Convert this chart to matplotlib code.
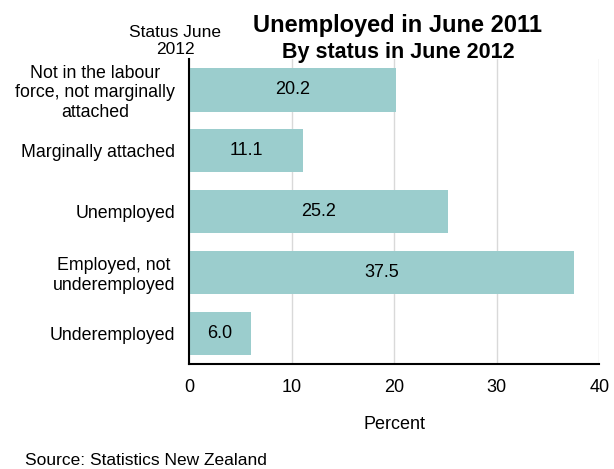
import matplotlib
matplotlib.use("Agg")
import matplotlib.pyplot as plt

plt.rcParams['font.family'] = ['Liberation Sans', 'DejaVu Sans']

categories = [
    "Not in the labour\nforce, not marginally\nattached",
    "Marginally attached",
    "Unemployed",
    "Employed, not\nunderemployed",
    "Underemployed",
]
values = [20.2, 11.1, 25.2, 37.5, 6.0]
x_ticks = [0, 10, 20, 30, 40]

fig = plt.figure(figsize=(6.14, 4.69), dpi=100)
ax = fig.add_axes([0.308, 0.224, 0.668, 0.650])

ypos = list(range(len(categories)))
bars = ax.barh(ypos, values, height=0.72, color="#9bcdcd", zorder=3)
for b, v in zip(bars, values):
    ax.text(v / 2, b.get_y() + b.get_height() / 2, f"{v:.1f}",
            ha="center", va="center", fontsize=13, zorder=4)

ax.set_ylim(len(categories) - 0.5, -0.5)
ax.set_xlim(0, 40)
ax.set_xticks(x_ticks)
ax.set_yticks(ypos)
ax.set_yticklabels(categories, fontsize=12.8, ha="right",
                   multialignment="center", linespacing=1.2)
ax.tick_params(axis="y", length=0, pad=10)
ax.tick_params(axis="x", length=0, pad=11, labelsize=13)
ax.xaxis.grid(True, color="#d9d9d9", linewidth=1, zorder=0)
for s in ["top", "right"]:
    ax.spines[s].set_visible(False)
ax.spines["left"].set_linewidth(1.5)
ax.spines["bottom"].set_linewidth(1.5)
ax.spines["left"].set_zorder(5)

ax.set_xlabel("Percent", fontsize=13, labelpad=14)

fig.text(0.648, 0.9318, "Unemployed in June 2011", ha="center", va="baseline",
         fontsize=17, fontweight="bold")
fig.text(0.649, 0.8757, "By status in June 2012", ha="center", va="baseline",
         fontsize=15.5, fontweight="bold")
fig.text(0.285, 0.9217, "Status June", ha="center", va="baseline", fontsize=12.5)
fig.text(0.285, 0.8849, "2012", ha="center", va="baseline", fontsize=12.5)
fig.text(0.041, 0.0085, "Source: Statistics New Zealand", ha="left",
         va="baseline", fontsize=12.5)

fig.savefig("out.png", dpi=100)
